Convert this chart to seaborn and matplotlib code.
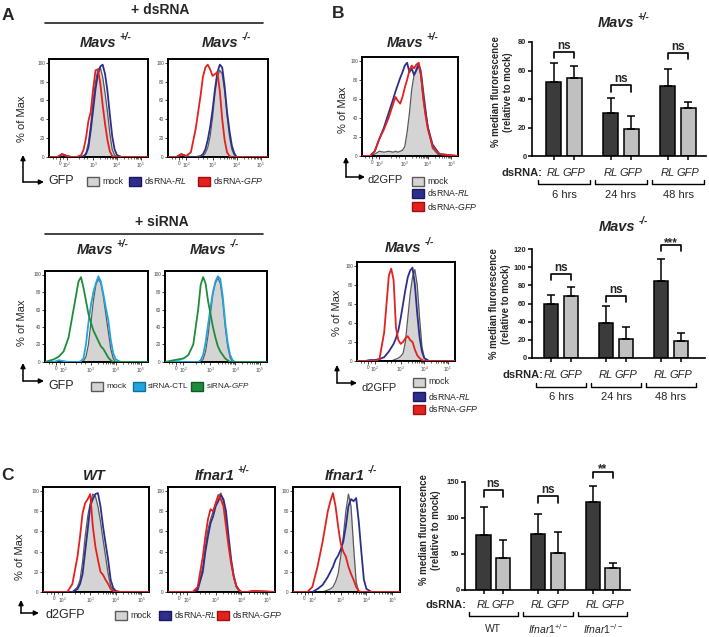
import numpy as np
import pandas as pd
import matplotlib
matplotlib.use("Agg")
import matplotlib.pyplot as plt
import seaborn as sns
from matplotlib.transforms import Affine2D, blended_transform_factory
from matplotlib.patches import Rectangle, FancyArrowPatch
from matplotlib.lines import Line2D
from matplotlib.text import Annotation

sns.set_theme(style="ticks")
plt.rcParams['font.family'] = ['Liberation Sans', 'DejaVu Sans']
plt.rcParams['mathtext.fontset'] = 'custom'
plt.rcParams['mathtext.rm'] = 'Liberation Sans'
plt.rcParams['mathtext.it'] = 'Liberation Sans:italic'
plt.rcParams['mathtext.bf'] = 'Liberation Sans:bold'

# ---------------- histogram data (fluorescence, biexponential-ish decades) ----------------
U = [1.15, 1.5, 1.7, 1.9, 2.1, 2.3, 2.5, 2.6, 2.7, 2.8, 2.9, 3.0, 3.1, 3.2, 3.3, 3.4,
     3.5, 3.6, 3.7, 3.8, 3.9, 4.0, 4.2, 4.5, 5.3]
XTICK_POS = [1.6, 1.9, 3, 4, 5]
XTICK_LAB = ['0', '$10^2$', '$10^3$', '$10^4$', '$10^5$']

A1_mock = [0,0,3,1,0,0,0,1,4,15,35,60,80,93,95,85,68,48,25,8,2,0,0,0,0]
A1_RL   = [0,0,3,1,0,0,0,1,3,10,28,50,72,88,96,98,88,70,45,22,8,2,0,0,0]
A1_GFP  = [0,0,3,1,0,0,2,8,20,38,48,72,92,93,78,55,35,18,6,1,0,0,0,0,0]

A2_mock = [0,0,3,1,0,0,0,1,4,10,22,42,68,85,92,88,70,45,22,8,2,0,0,0,0]
A2_RL   = [0,0,3,1,0,0,1,3,8,18,32,50,72,90,98,95,75,48,28,12,4,0,0,0,0]
A2_GFP  = [0,0,3,1,5,30,65,85,95,98,93,86,88,90,70,40,18,5,1,0,0,0,0,0,0]

A3_mock = [0,0,1,0,0,0,0,0,1,6,20,45,70,88,95,90,75,55,35,15,4,0,0,0,0]
A3_CTL  = [0,0,2,1,0,0,0,1,4,20,45,65,80,90,98,92,78,62,48,25,10,3,0,0,0]
A3_GFP  = [0,3,6,12,28,60,92,97,85,70,55,45,36,30,24,18,15,10,5,2,0,0,0,0,0]

A4_mock = [0,0,0,0,0,0,0,0,3,12,30,55,78,90,96,90,70,40,18,5,0,0,0,0,0]
A4_CTL  = [0,0,1,0,0,0,0,2,8,22,42,62,80,92,98,95,75,45,22,8,2,0,0,0,0]
A4_GFP  = [0,2,3,4,8,20,60,88,97,90,70,55,40,28,18,12,8,4,2,0,0,0,0,0,0]

B1_mock = [0,0,2,5,4,5,4,5,4,5,6,10,25,45,70,85,92,97,90,70,50,30,8,0,0]
B1_RL   = [0,0,5,18,30,45,60,68,75,82,88,95,98,88,92,85,90,96,85,62,45,30,12,2,0]
B1_GFP  = [0,0,5,18,28,40,55,62,58,55,62,72,80,90,95,92,96,98,85,60,42,28,10,2,0]

B2_mock = [0,0,0,0,0,0,0,0,1,2,3,5,8,20,45,70,88,96,80,45,15,3,0,0,0]
B2_RL   = [0,0,1,1,2,4,10,14,18,24,32,45,60,75,88,95,98,80,50,25,10,3,0,0,0]
B2_GFP  = [0,0,0,0,2,30,90,97,85,35,22,18,20,24,26,22,20,12,6,3,1,0,0,0,0]

C1_mock = [0,0,0,0,0,0,5,12,30,55,75,88,97,95,85,70,52,35,18,6,2,0,0,0,0]
C1_RL   = [0,0,0,0,0,0,3,8,18,40,62,85,92,97,98,85,65,48,32,12,4,1,0,0,0]
C1_GFP  = [0,0,0,0,0,8,35,55,78,88,92,97,65,45,32,20,17,12,8,3,1,0,0,0,0]

C2_mock = [0,0,0,0,0,3,25,45,62,72,80,88,95,98,90,72,50,30,14,5,1,0,0,0,0]
C2_RL   = [0,0,0,0,0,2,20,40,55,68,75,85,90,96,92,80,55,32,16,6,2,0,0,1,0]
C2_GFP  = [0,0,0,0,0,5,35,55,72,82,80,88,96,92,85,65,45,28,15,6,2,0,0,1,0]

C3_mock = [0,0,0,0,0,0,2,3,5,10,18,35,55,80,97,85,45,10,0,0,0,0,0,0,0]
C3_RL   = [0,0,0,0,3,7,15,20,25,32,36,42,50,65,85,92,90,93,70,40,12,3,0,0,0]
C3_GFP  = [0,0,0,5,25,50,80,90,98,85,65,48,40,35,25,18,12,5,1,0,0,0,0,0,0]

# ---------------- bar chart data ----------------
TREAT = ['RL', 'GFP']
B_groups = ['6 hrs', '24 hrs', '48 hrs']
Bhet_RL = [52, 30, 49]
Bhet_GFP = [55, 19, 34]
Bhet_RL_sd = [13, 11, 12]
Bhet_GFP_sd = [8, 9, 4]
Bhet_sig = ['ns', 'ns', 'ns']

Bko_RL = [59, 39, 85]
Bko_GFP = [68, 21, 19]
Bko_RL_sd = [10, 18, 24]
Bko_GFP_sd = [10, 13, 9]
Bko_sig = ['ns', 'ns', '***']

C_groups = ['WT', 'Ifnar1 +/-', 'Ifnar1 -/-']
C_labels = ['WT', r'$\mathit{Ifnar1}^{+/-}$', r'$\mathit{Ifnar1}^{-/-}$']
C_RL = [76, 78, 122]
C_GFP = [44, 51, 31]
C_RL_sd = [39, 28, 22]
C_GFP_sd = [25, 30, 6]
C_sig = ['ns', 'ns', '**']

# ---------------- colours ----------------
MOCK_FILL = '#d4d4d4'
MOCK_LINE = '#5a5a5a'
BLUE = '#2e2e8e'
RED = '#e3211f'
CYAN = '#22a4de'
GREEN = '#1f8c3c'
DARK = '#3b3b3b'
LIGHT = '#c0c0c0'

W, H = 709, 637
fig = plt.figure(figsize=(W / 100, H / 100), dpi=100)
PX = Affine2D().scale(1 / W, -1 / H).translate(0, 1) + fig.transFigure


def add_ax(l, t, r, b):
    return fig.add_axes([l / W, 1 - b / H, (r - l) / W, (b - t) / H])


def txt(x, y, s, **kw):
    kw.setdefault('ha', 'center')
    kw.setdefault('va', 'center')
    return fig.text(x, y, s, transform=PX, **kw)


def sup_title(xl, y, base, sup, size=10.5):
    t = txt(xl, y, base, ha='left', fontsize=size, fontweight='bold', fontstyle='italic')
    if sup:
        a = Annotation(sup, xy=(1, 0.95), xycoords=t, xytext=(2, 0), textcoords='offset points',
                       ha='left', va='center', fontsize=size * 0.68, fontweight='bold',
                       fontstyle='italic')
        fig.add_artist(a)


def hline(x0, x1, y, lw=1.2):
    fig.add_artist(Line2D([x0, x1], [y, y], transform=PX, color='#222222', lw=lw))


def arrows(x, ytip, ycorner, xtip):
    for p0, p1 in [((x, ycorner), (x, ytip)), ((x, ycorner), (xtip, ycorner))]:
        fig.add_artist(FancyArrowPatch(p0, p1, transform=PX, arrowstyle='-|>',
                                       mutation_scale=7, lw=1.1, color='black',
                                       shrinkA=0, shrinkB=0))


def legend_item(x, y, fc, ec, label, w=12, size=6.3):
    fig.add_artist(Rectangle((x, y - 4.5), w, 9, transform=PX, fc=fc, ec=ec, lw=1.0))
    txt(x + w + 3, y, label, ha='left', fontsize=size)


def hist_panel(box, mock, curves):
    ax = add_ax(*box)
    ax.fill_between(U, mock, color=MOCK_FILL, lw=0, zorder=1)
    sns.lineplot(x=U, y=mock, ax=ax, color=MOCK_LINE, lw=0.9, zorder=2)
    for vals, c in curves:
        sns.lineplot(x=U, y=vals, ax=ax, color=c, lw=1.3, zorder=3)
    ax.set_xlim(1.15, 5.3)
    ax.set_ylim(0, 104)
    ax.set_yticks([0, 20, 40, 60, 80, 100])
    ax.set_xticks(XTICK_POS)
    ax.set_xticklabels(XTICK_LAB)
    minors = [1.3, 1.45, 1.75, 2.4, 2.6, 2.75, 3.3, 3.48, 3.6, 3.7, 3.78, 3.85, 3.9, 3.95,
              4.3, 4.48, 4.6, 4.7, 4.78, 4.85, 4.9, 4.95]
    ax.set_xticks(minors, minor=True)
    ax.tick_params(axis='both', which='major', length=2, width=0.6, pad=1,
                   labelsize=3.4, labelcolor='#444444', color='#222222')
    ax.tick_params(axis='x', which='minor', length=1.5, width=0.5, color='#222222')
    for s in ax.spines.values():
        s.set_visible(True)
        s.set_color('black')
        s.set_linewidth(1.4)
    ax.set_xlabel('')
    ax.set_ylabel('')
    ax.grid(False)
    return ax


def bar_panel(box, groups, rl, gfp, rl_sd, gfp_sd, ylim, yticks, xlim, sig, brackets,
              grp_labels, dsx, offs, ylab_xy, grp_size=8):
    l, t, r, b = box
    hpx = b - t
    ax = add_ax(*box)
    df = pd.DataFrame({'group': list(groups) * 2,
                       'dsRNA': [TREAT[0]] * len(groups) + [TREAT[1]] * len(groups),
                       'value': list(rl) + list(gfp)})
    sns.barplot(data=df, x='group', y='value', hue='dsRNA', order=groups, hue_order=TREAT,
                palette=[DARK, LIGHT], width=0.72, gap=0.28, errorbar=None,
                edgecolor='black', linewidth=1.1, legend=False, ax=ax, zorder=2)
    bars = sorted(ax.patches, key=lambda p: p.get_x())
    xs = np.array([p.get_x() + p.get_width() / 2 for p in bars])
    hs = np.array([p.get_height() for p in bars])
    sd = np.ravel(np.column_stack([rl_sd, gfp_sd]))
    ax.errorbar(xs, hs, yerr=[np.zeros_like(sd), sd], fmt='none', ecolor='black',
                elinewidth=1.1, capsize=3, capthick=1.1, zorder=3, clip_on=False)
    ax.set_xlim(*xlim)
    ax.set_ylim(*ylim)
    ax.set_yticks(yticks)
    ax.set_xticks(xs)
    ax.set_xticklabels([])
    ax.set_xlabel('')
    ax.set_ylabel('')
    sns.despine(ax=ax)
    for s in ['left', 'bottom']:
        ax.spines[s].set_color('black')
        ax.spines[s].set_linewidth(1.2)
    ax.tick_params(axis='y', length=3, width=1.1, labelsize=5.4, pad=1.0, color='black')
    ax.tick_params(axis='x', length=3, width=1.1, color='black')
    for lab in ax.get_yticklabels():
        lab.set_fontweight('bold')

    bt = blended_transform_factory(ax.transData, ax.transAxes)

    def fy(px):
        return -px / hpx

    for i, x in enumerate(xs):
        ax.text(x, fy(offs[0]), TREAT[i % 2], transform=bt, ha='center', va='center',
                fontstyle='italic', fontsize=8)
    ax.text(dsx, fy(offs[0]), 'dsRNA:', transform=bt, ha='right', va='center',
            fontweight='bold', fontsize=8)
    for g in range(len(groups)):
        x0 = xs[2 * g] - 0.27
        x1 = xs[2 * g + 1] + 0.27
        ax.plot([x0, x0, x1, x1], [fy(offs[1]), fy(offs[2]), fy(offs[2]), fy(offs[1])],
                transform=bt, color='black', lw=1.0, clip_on=False)
        ax.text((x0 + x1) / 2, fy(offs[3]), grp_labels[g], transform=bt, ha='center',
                va='center', fontsize=grp_size)
        xa, xb = xs[2 * g], xs[2 * g + 1]
        top, leg = brackets[g]
        ax.plot([xa, xa, xb, xb], [leg, top, top, leg], color='black', lw=1.2, clip_on=False)
        ax.annotate(sig[g], xy=((xa + xb) / 2, top),
                    xytext=(0, 2.2 if sig[g] == 'ns' else -0.5), textcoords='offset points',
                    ha='center', va='baseline', fontsize=8.5, fontweight='bold',
                    annotation_clip=False)
    txt(ylab_xy[0], ylab_xy[1], '% median flurorescence\n(relative to mock)', rotation=90,
        fontsize=6.9, fontweight='bold', linespacing=1.35, multialignment='center')
    ax.grid(False)
    return ax


# ================= Panel A =================
txt(8, 15, 'A', fontsize=12.5, fontweight='bold')
txt(160, 10, '+ dsRNA', fontsize=10, fontweight='bold')
hline(45, 263, 23)
sup_title(80, 43, 'Mavs', '+/-')
sup_title(202, 43, 'Mavs', '-/-')
hist_panel((49, 59, 148, 157), A1_mock, [(A1_RL, BLUE), (A1_GFP, RED)])
hist_panel((168, 59, 268, 157), A2_mock, [(A2_RL, BLUE), (A2_GFP, RED)])
txt(22, 119, '% of Max', rotation=90, fontsize=8)
arrows(23, 155, 182, 44)
txt(48, 181, 'GFP', ha='left', fontsize=9)
legend_item(87, 181, MOCK_FILL, MOCK_LINE, 'mock')
legend_item(129, 181, BLUE, '#1a1a5a', r'dsRNA-$\mathit{RL}$')
legend_item(198, 181, RED, '#a01010', r'dsRNA-$\mathit{GFP}$')

txt(162, 222, '+ siRNA', fontsize=10, fontweight='bold')
hline(45, 263, 234)
sup_title(77, 250, 'Mavs', '+/-')
sup_title(190, 250, 'Mavs', '-/-')
hist_panel((45, 271, 148, 362), A3_mock, [(A3_CTL, CYAN), (A3_GFP, GREEN)])
hist_panel((165, 271, 267, 362), A4_mock, [(A4_CTL, CYAN), (A4_GFP, GREEN)])
txt(22, 323, '% of Max', rotation=90, fontsize=8)
arrows(23, 363, 381, 44)
txt(48, 386, 'GFP', ha='left', fontsize=9)
legend_item(91, 386, MOCK_FILL, MOCK_LINE, 'mock', size=6.0)
legend_item(133, 386, CYAN, '#10709a', 'siRNA-CTL', size=5.8)
legend_item(191, 386, GREEN, '#0f5a25', r'siRNA-$\mathit{GFP}$', size=5.8)

# ================= Panel B =================
txt(338, 14, 'B', fontsize=12.5, fontweight='bold')
sup_title(387, 43, 'Mavs', '+/-')
hist_panel((362, 57, 458, 156), B1_mock, [(B1_RL, BLUE), (B1_GFP, RED)])
txt(343, 110, '% of Max', rotation=90, fontsize=8)
arrows(346, 157, 177, 365)
txt(368, 180, 'd2GFP', ha='left', fontsize=8)
legend_item(412, 181, MOCK_FILL, MOCK_LINE, 'mock')
legend_item(412, 193, BLUE, '#1a1a5a', r'dsRNA-$\mathit{RL}$')
legend_item(412, 206, RED, '#a01010', r'dsRNA-$\mathit{GFP}$')

sup_title(385, 248, 'Mavs', '-/-')
hist_panel((357, 262, 455, 361), B2_mock, [(B2_RL, BLUE), (B2_GFP, RED)])
txt(337, 313, '% of Max', rotation=90, fontsize=8)
arrows(337, 365, 383, 357)
txt(362, 388, 'd2GFP', ha='left', fontsize=8)
legend_item(413, 382, MOCK_FILL, MOCK_LINE, 'mock')
legend_item(413, 396, BLUE, '#1a1a5a', r'dsRNA-$\mathit{RL}$')
legend_item(413, 409, RED, '#a01010', r'dsRNA-$\mathit{GFP}$')

sup_title(598, 23, 'Mavs', '+/-')
bar_panel((532, 42, 706, 156), B_groups, Bhet_RL, Bhet_GFP, Bhet_RL_sd, Bhet_GFP_sd,
          (0, 80), [0, 20, 40, 60, 80], (-0.56, 2.49), Bhet_sig,
          [(73, 69), (50, 45), (72, 68)], B_groups, -0.37, (17, 24, 28, 39), (502, 92))

sup_title(599, 227, 'Mavs', '-/-')
bar_panel((532, 249, 705, 358), B_groups, Bko_RL, Bko_GFP, Bko_RL_sd, Bko_GFP_sd,
          (0, 120), [0, 20, 40, 60, 80, 100, 120], (-0.53, 2.62), Bko_sig,
          [(92, 86), (68, 62), (124, 118)], B_groups, -0.33, (17, 25, 29, 39), (500, 304))

# ================= Panel C =================
txt(8, 475, 'C', fontsize=12.5, fontweight='bold')
txt(94, 476, 'WT', fontsize=10.5, fontweight='bold', fontstyle='italic')
sup_title(195, 476, 'Ifnar1', '+/-')
sup_title(325, 476, 'Ifnar1', '-/-')
hist_panel((43, 487, 149, 592), C1_mock, [(C1_RL, BLUE), (C1_GFP, RED)])
hist_panel((168, 487, 275, 592), C2_mock, [(C2_RL, BLUE), (C2_GFP, RED)])
hist_panel((293, 487, 400, 592), C3_mock, [(C3_RL, BLUE), (C3_GFP, RED)])
txt(20, 557, '% of Max', rotation=90, fontsize=8)
arrows(21, 600, 613, 39)
txt(45, 615, 'd2GFP', ha='left', fontsize=9)
legend_item(115, 615, MOCK_FILL, MOCK_LINE, 'mock')
legend_item(159, 615, BLUE, '#1a1a5a', r'dsRNA-$\mathit{RL}$')
legend_item(217, 615, RED, '#a01010', r'dsRNA-$\mathit{GFP}$')

bar_panel((465, 482, 630, 590), C_groups, C_RL, C_GFP, C_RL_sd, C_GFP_sd,
          (0, 150), [0, 50, 100, 150], (-0.52, 2.5), C_sig,
          [(139, 129), (130, 121), (164, 155)], C_labels, -0.5, (15, 22, 26, 39), (430, 530),
          grp_size=7.5)

fig.savefig('out.png', dpi=100)
